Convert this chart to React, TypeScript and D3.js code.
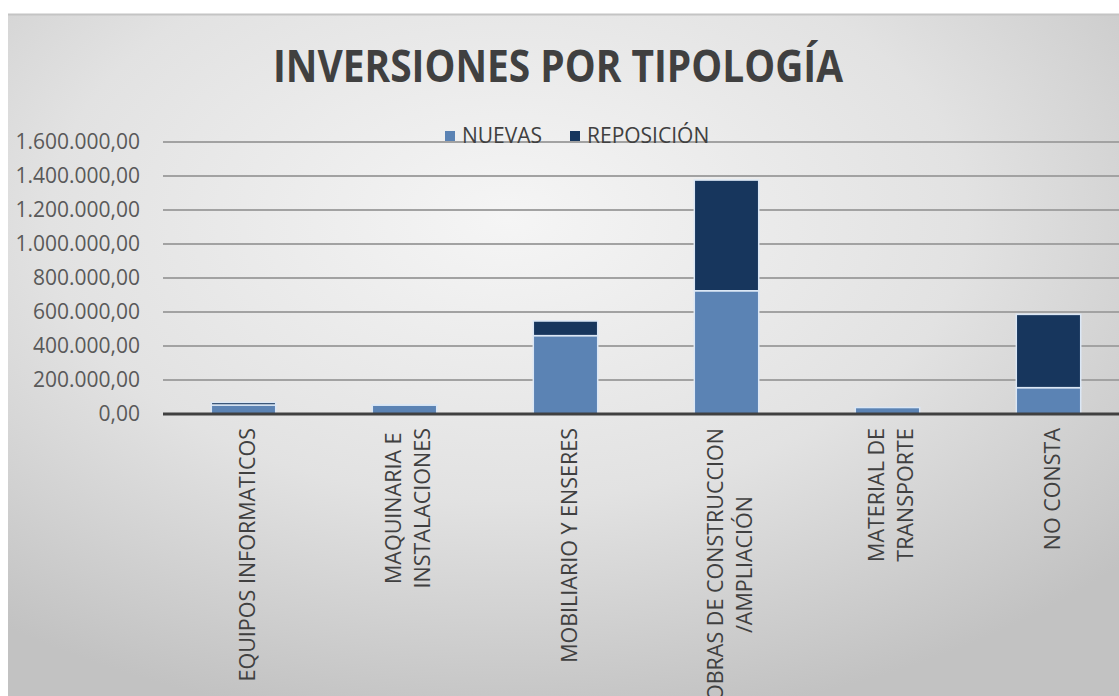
import React, { useEffect, useRef } from "react";
import * as d3 from "d3";

const categories = [
  "EQUIPOS INFORMATICOS",
  "MAQUINARIA E\nINSTALACIONES",
  "MOBILIARIO Y ENSERES",
  "OBRAS DE CONSTRUCCION\n/AMPLIACIÓN",
  "MATERIAL DE\nTRANSPORTE",
  "NO CONSTA",
];
const nuevas = [53000, 52000, 461000, 725000, 38000, 155000];
const reposicion = [15000, 3000, 86000, 651000, 0, 431000];
const yTicks = [0, 200000, 400000, 600000, 800000, 1000000, 1200000, 1400000, 1600000];
const seriesNames = ["NUEVAS", "REPOSICIÓN"];
const seriesColors = ["#5b83b4", "#17365d"];

const W = 1119;
const H = 696;

export default function App() {
  const ref = useRef<SVGSVGElement>(null);

  useEffect(() => {
    const svg = d3.select(ref.current);
    svg.selectAll("*").remove();
    const font = "'Open Sans', sans-serif";

    const defs = svg.append("defs");
    const rg = defs
      .append("radialGradient")
      .attr("id", "bg")
      .attr("cx", "0.45")
      .attr("cy", "0.3")
      .attr("r", "0.75");
    rg.append("stop").attr("offset", "0").attr("stop-color", "#f5f5f5");
    rg.append("stop").attr("offset", "0.55").attr("stop-color", "#e2e2e2");
    rg.append("stop").attr("offset", "1").attr("stop-color", "#c2c2c2");

    svg.append("rect").attr("width", W).attr("height", H).attr("fill", "#ffffff");
    svg
      .append("rect")
      .attr("x", 8)
      .attr("y", 14)
      .attr("width", W - 8)
      .attr("height", H - 14)
      .attr("fill", "url(#bg)");
    svg
      .append("line")
      .attr("x1", 8)
      .attr("x2", W)
      .attr("y1", 14.5)
      .attr("y2", 14.5)
      .attr("stroke", "#c4c4c4")
      .attr("stroke-width", 2);

    // title
    svg
      .append("text")
      .attr("x", 558)
      .attr("y", 82)
      .attr("text-anchor", "middle")
      .attr("font-family", font)
      .attr("font-weight", 700)
      .attr("font-size", 44)
      .attr("fill", "#404040")
      .attr("textLength", 570)
      .attr("lengthAdjust", "spacingAndGlyphs")
      .text("INVERSIONES POR TIPOLOGÍA");

    const x = d3
      .scaleBand<string>()
      .domain(categories)
      .range([163, 1129])
      .paddingInner(0.6)
      .paddingOuter(0.3);
    const y = d3.scaleLinear().domain([0, 1600000]).range([414, 142]);

    const locale = d3.formatLocale({
      decimal: ",",
      thousands: ".",
      grouping: [3],
      currency: ["", "€"],
    });
    const fmt = locale.format(",.2f");

    // gridlines
    svg
      .append("g")
      .selectAll("line")
      .data(yTicks.filter((t) => t > 0))
      .join("line")
      .attr("x1", 163)
      .attr("x2", 1129)
      .attr("y1", (d) => y(d))
      .attr("y2", (d) => y(d))
      .attr("stroke", "#a2a2a2")
      .attr("stroke-width", 2);

    // y labels
    svg
      .append("g")
      .selectAll("text")
      .data(yTicks)
      .join("text")
      .attr("x", 140)
      .attr("y", (d) => y(d))
      .attr("dy", "0.35em")
      .attr("text-anchor", "end")
      .attr("font-family", font)
      .attr("font-size", 21)
      .attr("fill", "#595959")
      .text((d) => fmt(d));

    // stacked bars
    const rows = categories.map((c, i) => ({ cat: c, nuevas: nuevas[i], reposicion: reposicion[i] }));
    const stack = d3.stack<any>().keys(["nuevas", "reposicion"])(rows);
    svg
      .append("g")
      .selectAll("g")
      .data(stack)
      .join("g")
      .attr("fill", (_, i) => seriesColors[i])
      .selectAll("rect")
      .data((d) => d.map((p) => ({ p, cat: p.data.cat })))
      .join("rect")
      .filter((d) => d.p[1] - d.p[0] > 0)
      .attr("x", (d) => x(d.cat)!)
      .attr("width", x.bandwidth())
      .attr("y", (d) => y(d.p[1]))
      .attr("height", (d) => y(d.p[0]) - y(d.p[1]))
      .attr("stroke", "#dbe7f5")
      .attr("stroke-width", 1.5);

    // axis line
    svg
      .append("line")
      .attr("x1", 163)
      .attr("x2", 1129)
      .attr("y1", y(0))
      .attr("y2", y(0))
      .attr("stroke", "#404040")
      .attr("stroke-width", 3);

    // category labels
    const lblTop = 428;
    const lineGap = 29;
    categories.forEach((c) => {
      const lines = c.split("\n");
      const cx = x(c)! + x.bandwidth() / 2 + 3;
      const g = svg.append("g");
      const texts = lines.map((ln) =>
        g
          .append("text")
          .attr("font-family", font)
          .attr("font-size", 21.5)
          .attr("fill", "#404040")
          .attr("text-anchor", "middle")
          .text(ln)
      );
      const maxW = d3.max(texts, (t) => (t.node() as SVGTextElement).getComputedTextLength()) || 0;
      const cy = lblTop + maxW / 2;
      texts.forEach((t, j) => {
        const off = (j - (lines.length - 1) / 2) * lineGap;
        const bx = cx + off + 8;
        t.attr("transform", `translate(${bx},${cy}) rotate(-90)`);
      });
    });

    // legend
    const legend = svg.append("g");
    const legX = [445, 570];
    seriesNames.forEach((n, i) => {
      legend
        .append("rect")
        .attr("x", legX[i])
        .attr("y", 131)
        .attr("width", 10)
        .attr("height", 10)
        .attr("fill", seriesColors[i]);
      legend
        .append("text")
        .attr("x", legX[i] + 17)
        .attr("y", 136)
        .attr("dy", "0.35em")
        .attr("font-family", font)
        .attr("font-size", 21)
        .attr("fill", "#404040")
        .text(n);
    });
  }, []);

  return (
    <svg
      ref={ref}
      width={W}
      height={H}
      style={{ position: "absolute", left: 0, top: 0, display: "block" }}
    />
  );
}
